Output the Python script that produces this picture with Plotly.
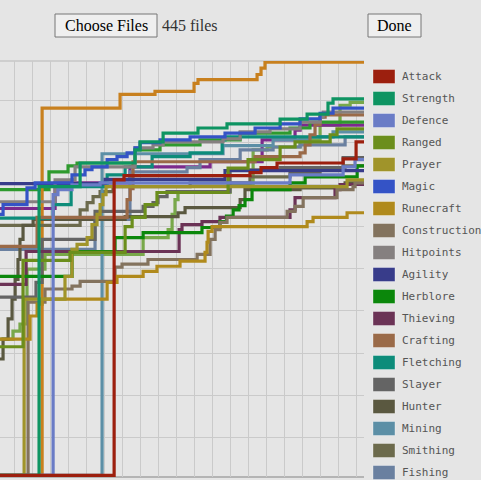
import plotly.graph_objects as go

# ---------------- data (x = week index, y = skill level) ----------------
SKILLS = ["Attack", "Strength", "Defence", "Ranged", "Prayer", "Magic", "Runecraft",
          "Construction", "Hitpoints", "Agility", "Herblore", "Thieving", "Crafting",
          "Fletching", "Slayer", "Hunter", "Mining", "Smithing", "Fishing",
          "Cooking", "Woodcutting", "Firemaking", "Farming"]
COLORS = ["#9c1f0e", "#0e9462", "#6a7cc6", "#6b8e1c", "#a0942a", "#3453c6", "#b08a1c",
          "#83735e", "#858080", "#383c8a", "#0b870b", "#6b3356", "#9a6a48",
          "#0d8c7a", "#646464", "#5a5840", "#5c8fa6", "#6c6a4c", "#6a80a0",
          "#c8801e", "#2e9a2e", "#7c2a8c", "#78a84a"]

attack_week = [-1, 5.56, 6.11, 13.11, 13.72, 14.61, 18.28, 19.0]
attack_level = [1, 71.1, 72.1, 72.8, 74, 75.1, 76.1, 80.1]

strength_week = [-1, 1.39, 3.67, 6.72, 7.0, 8.28, 10.22, 11.83, 14.78, 16.28, 17.44, 17.72]
strength_level = [1, 69.5, 75.1, 78.2, 80.1, 82.2, 83.4, 84.4, 85.5, 86.7, 89.3, 90.3]

defence_week = [-1, 2.17, 2.44, 3.22, 4.78, 15.33, 18.28, 18.94]
defence_level = [1, 67.6, 68.8, 69.9, 70.4, 72.3, 74.2, 75.9]

ranged_week = [-1, 0.5, 3.11, 6.17, 6.56, 7.28, 7.94, 11.89, 13.0, 14.78, 15.61, 17.56, 17.94]
ranged_level = [31.5, 52, 53.9, 60, 62.2, 65.2, 68.1, 73.9, 75.9, 78.9, 80.1, 81.8, 83.2]

prayer_week = [-1, 0.56, 2.83, 3.22, 3.5, 4.06, 4.33, 4.61, 4.78, 4.94, 5.11, 18.5]
prayer_level = [1, 42.8, 48.2, 54.6, 55.8, 57.4, 60.5, 62.9, 65.2, 67.6, 69.5, 71.1]

magic_week = [-1, -0.61, 0.72, 1.17, 3.22, 3.94, 4.33, 5.17, 5.72, 6.28, 6.72, 7.0,
              8.11, 9.78, 11.72, 13.39, 14.78, 15.89, 17.0, 17.72]
magic_level = [62.9, 65.2, 69.2, 70.4, 72.3, 73.5, 74.2, 75.9, 76.6, 77.5, 78.7, 79.9,
               80.6, 81.3, 82.2, 83.4, 84.4, 85.6, 86.9, 88.1]

runecraft_week = [-1, 0.89, 1.28, 1.56, 5.17, 5.72, 7.17, 7.94, 9.22, 10.61, 10.72,
                  10.78, 11.0, 16.28, 16.61, 18.5]
runecraft_level = [33.3, 38.8, 41.6, 42.8, 46.8, 48.2, 49.4, 50.6, 51.8, 53.9, 56.3,
                   58.9, 60, 61.2, 62.2, 63.3]

construction_week = [-1, 0.78, 1.72, 3.22, 3.67, 5.61, 6.0, 7.44, 10.17, 10.89, 11.17,
                     11.44, 11.83, 15.17, 15.61, 16.06, 17.94, 18.83, 18.94]
construction_level = [1, 42.1, 45.2, 45.9, 47, 50.4, 51.1, 52.2, 53.4, 57, 59.3,
                      61, 62.2, 63.6, 64.8, 66.9, 68.8, 69.5, 70.4]

hitpoints_week = [-1, 2.28, 3.39, 6.72, 7.72, 8.28, 11.61, 12.56, 14.22, 15.89, 17.0, 17.17]
hitpoints_level = [65.9, 71.1, 74.2, 78.7, 79.4, 80.1, 80.8, 82.5, 83.2, 84.8, 86, 87.2]

agility_week = [-1, 5.06, 11.72]
agility_level = [70.2, 71.2, 73.3]

herblore_week = [-1, 3.22, 5.61, 7.17, 10.44, 11.44, 11.8, 12.17, 12.5, 12.83, 13.22,
                 15.33, 16.17, 19.06]
herblore_level = [48.2, 54.1, 57.4, 58.6, 59.8, 61.2, 62.5, 64, 65, 66.4, 68.8,
                  70.4, 71.8, 74.4]

thieving_week = [-1, 0.67, 9.17, 9.33, 10.44, 11.44, 15.33, 15.61, 17.83, 18.11]
thieving_level = [46.3, 54.1, 59.3, 60.5, 61.2, 62.2, 64, 66.9, 68.8, 70]

crafting_week = [-1, 1.28, 6.28, 6.45, 6.61, 13.39, 15.89, 16.17, 16.44, 16.72, 17.0, 17.28]
crafting_level = [55.3, 62.2, 66.4, 69, 75.4, 76.6, 77.5, 79.4, 81.8, 84.2, 86, 86.5]

fletching_week = [-1, 2.17, 3.17, 5.17, 6.17, 7.67, 9.78, 11.56, 11.72]
fletching_level = [62, 65.2, 69.5, 72.3, 74.2, 76.6, 77.5, 80.6, 81.3]

slayer_week = [-1, 1.22, 1.56, 4.5, 7.17, 7.72, 8.0, 8.5, 12.0, 14.78, 18.28]
slayer_level = [43.3, 46.8, 57, 63.6, 64.8, 65.7, 67.1, 68.3, 73.5, 74, 76.4]

hunter_week = [-1, -0.61, -0.33, -0.11, 0.06, 0.22, 0.33, 0.5, 1.06, 6.17, 9.11, 9.5,
               12.56, 12.83, 15.89, 18.39]
hunter_level = [28.6, 33.3, 38.1, 42.8, 47.5, 52.2, 57, 60.3, 61.7, 62.4, 63.3, 64.5,
                66.4, 68.8, 69.2, 70.4]

mining_week = [-1, 4.89, 11.61, 14.39, 16.44, 17.72]
mining_level = [1, 77.3, 79.2, 80.6, 81.3, 82.5]

smithing_week = [-1, 3.67, 4.06, 4.39, 4.78, 5.5, 9.78, 13.11, 15.33, 17.0, 18.39]
smithing_level = [60.3, 64, 65.7, 67.1, 68.3, 69.5, 70.4, 71.8, 72.8, 73.5, 74.4]

fishing_week = [-1, 4.5, 6.44, 9.61, 10.33, 12.56, 14.39, 15.89, 18.39]
fishing_level = [54.6, 61.7, 73, 74, 75.9, 78.2, 78.9, 79.4, 81.3]

cooking_week = [-1, 1.56, 5.89, 7.83, 10.0, 10.22, 13.5, 13.72, 13.94]
cooking_level = [1, 88.1, 91.4, 92.1, 94, 94.9, 96.1, 97.6, 99]

woodcutting_week = [-1, 1.94, 3.0, 3.5, 6.72, 8.11, 10.33, 12.56, 15.33, 16.44]
woodcutting_level = [68.8, 73, 74.4, 75.1, 78.2, 79.4, 80.6, 82.2, 83.4, 84.8]

firemaking_week = [-1, 2.28, 6.44, 10.89, 13.78, 15.61, 15.89]
firemaking_level = [64.3, 70.4, 74.2, 75.4, 80.6, 82.9, 84.1]

farming_week = [-1, -0.06, 0.33, 0.72, 1.72, 7.17, 8.56, 8.78, 8.94, 9.11, 12.0, 13.28,
                14.06, 15.89, 17.0, 18.11, 18.67]
farming_level = [33.3, 35.2, 36.9, 49.9, 53.4, 57.4, 59.3, 62.9, 66.4, 68.1, 70, 78.2,
                 78.9, 80.6, 84.1, 88.8, 89.5]

SERIES = [
    (attack_week, attack_level), (strength_week, strength_level),
    (defence_week, defence_level), (ranged_week, ranged_level),
    (prayer_week, prayer_level), (magic_week, magic_level),
    (runecraft_week, runecraft_level), (construction_week, construction_level),
    (hitpoints_week, hitpoints_level), (agility_week, agility_level),
    (herblore_week, herblore_level), (thieving_week, thieving_level),
    (crafting_week, crafting_level), (fletching_week, fletching_level),
    (slayer_week, slayer_level), (hunter_week, hunter_level),
    (mining_week, mining_level), (smithing_week, smithing_level),
    (fishing_week, fishing_level), (cooking_week, cooking_level),
    (woodcutting_week, woodcutting_level), (firemaking_week, firemaking_level),
    (farming_week, farming_level),
]

X_MIN, X_MAX = -0.78, 19.44
Y_MIN, Y_MAX = 0.6, 99.3

# ---------------- figure ----------------
W, H = 481, 480
ML, MR, MT, MB = 0, 117, 61, 3
PW = W - ML - MR
PH = H - MT - MB

fig = go.Figure()
# first skill drawn last (on top)
for i in reversed(range(len(SKILLS))):
    xs, ys = SERIES[i]
    fig.add_trace(go.Scatter(
        x=list(xs) + [X_MAX], y=list(ys) + [ys[-1]],
        mode="lines", line=dict(color=COLORS[i], width=3.2, shape="hv"),
        name=SKILLS[i], showlegend=False, hoverinfo="skip"))


def xp(px):
    return (px - ML) / PW


def yp(py):
    return (H - MB - py) / PH


shapes = []
annotations = []

# plot borders
shapes.append(dict(type="line", xref="paper", yref="paper", x0=0, x1=1, y0=1, y1=1,
                   layer="below", line=dict(color="#c6c6c6", width=1.5)))
shapes.append(dict(type="line", xref="paper", yref="paper", x0=0, x1=1, y0=0, y1=0,
                   layer="below", line=dict(color="#b4b4b4", width=2)))

# buttons
for (x0, x1, label) in [(55, 157, "Choose Files"), (368, 421, "Done")]:
    shapes.append(dict(type="rect", xref="paper", yref="paper",
                       x0=xp(x0), x1=xp(x1), y0=yp(37), y1=yp(14),
                       fillcolor="#efefef", line=dict(color="#767676", width=1)))
    annotations.append(dict(xref="paper", yref="paper", x=xp((x0 + x1) / 2), y=yp(25.5),
                            text=label, showarrow=False, xanchor="center", yanchor="middle",
                            font=dict(family="Liberation Serif", size=16, color="#000000")))
annotations.append(dict(xref="paper", yref="paper", x=xp(160), y=yp(25.5),
                        text="445 files", showarrow=False, xanchor="left", yanchor="middle",
                        font=dict(family="Liberation Serif", size=16, color="#333333")))

# legend (visible part)
for i, name in enumerate(SKILLS):
    cy = 76.5 + 22 * i
    if cy > H + 10:
        break
    shapes.append(dict(type="rect", xref="paper", yref="paper",
                       x0=xp(373), x1=xp(395), y0=yp(cy + 7), y1=yp(cy - 7),
                       fillcolor=COLORS[i], line=dict(color="rgba(255,255,255,0.35)", width=1)))
    annotations.append(dict(xref="paper", yref="paper", x=xp(399.5), y=yp(cy),
                            text=name, showarrow=False, xanchor="left", yanchor="middle",
                            font=dict(family="DejaVu Sans Mono", size=11, color="#555555")))

fig.update_layout(
    width=W, height=H,
    margin=dict(l=ML, r=MR, t=MT, b=MB, pad=0),
    paper_bgcolor="#e5e5e5", plot_bgcolor="#e5e5e5",
    showlegend=False,
    xaxis=dict(range=[X_MIN, X_MAX], dtick=1, tick0=0, showticklabels=False,
               showgrid=True, gridcolor="#cacaca", gridwidth=1, zeroline=False,
               showline=False, fixedrange=True),
    yaxis=dict(range=[Y_MIN, Y_MAX], dtick=10, tick0=0, showticklabels=False,
               showgrid=True, gridcolor="#cacaca", gridwidth=1, zeroline=False,
               showline=False, fixedrange=True),
    shapes=shapes, annotations=annotations,
)

fig.write_html("out.html", config={"displayModeBar": False})
